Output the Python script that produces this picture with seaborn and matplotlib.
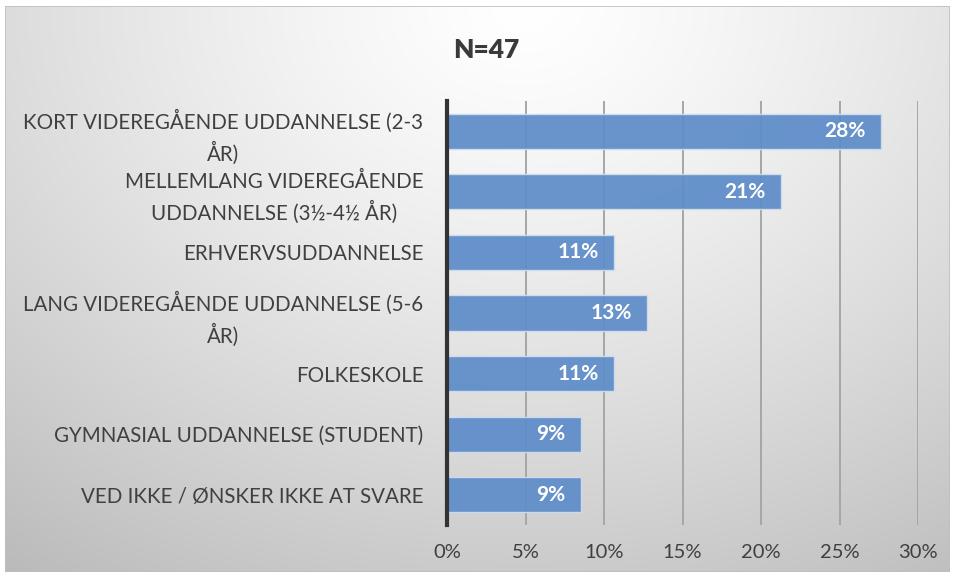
import numpy as np
import pandas as pd
import matplotlib
matplotlib.use("Agg")
import matplotlib.pyplot as plt
import seaborn as sns

categories = [
    "KORT VIDEREGÅENDE UDDANNELSE (2-3\nÅR)",
    "MELLEMLANG VIDEREGÅENDE\nUDDANNELSE (3½-4½ ÅR)",
    "ERHVERVSUDDANNELSE",
    "LANG VIDEREGÅENDE UDDANNELSE (5-6\nÅR)",
    "FOLKESKOLE",
    "GYMNASIAL UDDANNELSE (STUDENT)",
    "VED IKKE / ØNSKER IKKE AT SVARE",
]
values = [27.66, 21.28, 10.64, 12.77, 10.64, 8.51, 8.51]
labels = ["28%", "21%", "11%", "13%", "11%", "9%", "9%"]
xticks = [0, 5, 10, 15, 20, 25, 30]
title = "N=47"

sns.set_theme(style="white")
plt.rcParams["font.family"] = ["Lato", "DejaVu Sans"]

W, H = 955, 577
fig = plt.figure(figsize=(W / 100, H / 100), dpi=100)

# background gradient panel
bg = fig.add_axes([5 / W, 5 / H, 945 / W, 566 / H], zorder=0)
ny, nx = 300, 500
yy, xx = np.mgrid[0:ny, 0:nx]
cx, cy = nx * 0.55, 0.0
d = np.sqrt(((xx - cx) / nx) ** 2 + ((yy - cy) / ny * 0.75) ** 2)
d = d / d.max()
val = 1.0 - 0.27 * np.clip(d, 0, 1) ** 1.3
img = np.dstack([val, val, val])
bg.imshow(img, aspect="auto", extent=[0, 1, 0, 1], origin="upper")
bg.set_axis_off()
bg.add_patch(plt.Rectangle((0, 0), 1, 1, transform=bg.transAxes, fill=False,
                           edgecolor="#BFBFBF", linewidth=1.2))

ax = fig.add_axes([447 / W, (H - 525) / H, (918 - 447) / W, (525 - 101) / H], zorder=1)
ax.patch.set_alpha(0)

df = pd.DataFrame({"cat": categories, "val": values})
sns.barplot(data=df, y="cat", x="val", ax=ax, color="#5F8DC9", alpha=0.94,
            saturation=1, width=0.58, edgecolor="#D0DDEF", linewidth=1.0,
            orient="h", zorder=2)

ax.set_xlim(0, 30)
ax.set_xticks(xticks)
ax.set_xticklabels([f"{t}%" for t in xticks], fontsize=14.5, color="#404040")
ax.xaxis.grid(True, color="#A6A6A6", linewidth=1.4, zorder=1)
ax.set_axisbelow(True)
ax.tick_params(axis="x", length=0, pad=14)
ax.tick_params(axis="y", length=0, pad=17)
for lab in ax.get_yticklabels():
    lab.set_fontsize(14.8)
    lab.set_color("#404040")
    lab.set_multialignment("center")
    lab.set_linespacing(1.45)
ax.set_xlabel("")
ax.set_ylabel("")
for s in ["top", "right", "bottom"]:
    ax.spines[s].set_visible(False)
ax.spines["left"].set_color("#333333")
ax.spines["left"].set_linewidth(3)
ax.spines["left"].set_zorder(5)

for i, (v, lab) in enumerate(zip(values, labels)):
    ax.text(v - 1.0, i, lab, ha="right", va="center", color="white",
            fontsize=15, fontweight="bold", zorder=4)

fig.text(486 / W, 1 - 50 / H, title, ha="center", va="center", fontsize=19,
         fontweight="heavy", color="#3A3A3A", zorder=3)

fig.savefig("out.png", dpi=100)
